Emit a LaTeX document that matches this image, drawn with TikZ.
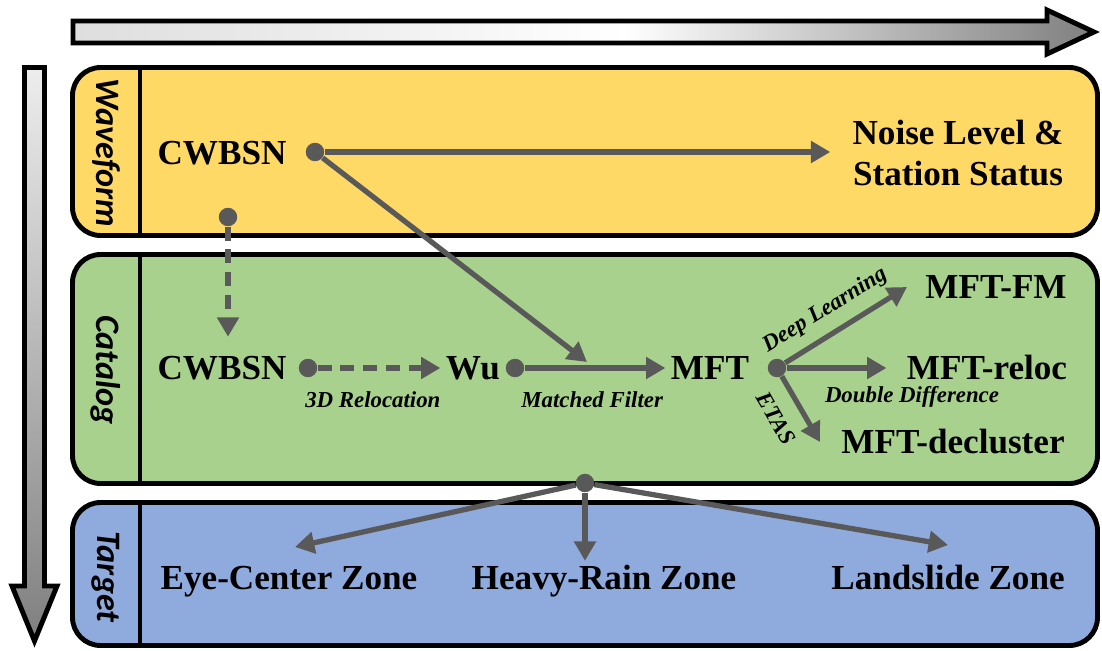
\documentclass[tikz,border=0pt]{standalone}
\usepackage{fontspec}
\setmainfont{Liberation Serif}
\newfontfamily\lanefont{Carlito}
\usetikzlibrary{arrows.meta, calc}

\definecolor{ink}{HTML}{000000}
\definecolor{flowgray}{HTML}{595959}
\definecolor{wavefill}{HTML}{FFD966}
\definecolor{catfill}{HTML}{A9D18E}
\definecolor{tgtfill}{HTML}{8FAADC}

\pgfdeclarehorizontalshading{timeshade}{100bp}{rgb(0bp)=(.87,.87,.87); rgb(25bp)=(.87,.87,.87);
  rgb(52bp)=(1,1,1); rgb(75bp)=(.5,.5,.5); rgb(100bp)=(.5,.5,.5)}
\pgfdeclareverticalshading{depthshade}{100bp}{rgb(0bp)=(.5,.5,.5); rgb(25bp)=(.5,.5,.5);
  rgb(75bp)=(.93,.93,.93); rgb(100bp)=(.93,.93,.93)}

\tikzset{
  >={Triangle[length=11pt, width=12pt]},
  %
  band/.style={draw=ink, line width=2.8pt, rounded corners=16pt},
  divider/.style={draw=ink, line width=2.8pt},
  lanelbl/.style={font=\lanefont\fontsize{19.5}{20}\selectfont\bfseries\itshape,
                  rotate=-90, inner sep=0pt, text=ink},
  %
  item/.style={font=\bfseries\fontsize{20}{22.8}\selectfont, text=ink,
               inner sep=3pt, align=center},
  cell/.style={item, text height=13.2pt, text depth=0pt},
  tag/.style={font=\bfseries\itshape\fontsize{13}{14}\selectfont, text=ink, inner sep=2pt},
  dot/.style={circle, fill=flowgray, inner sep=0pt, minimum size=10.5pt},
  %
  flow/.style={draw=flowgray, line width=3pt, ->},
  flowdash/.style={flow, dash pattern=on 8pt off 5pt},
  %
  timearrow/.style={draw=ink, line width=2.8pt, line join=miter, shading=timeshade},
  deptharrow/.style={draw=ink, line width=2.8pt, line join=miter, shading=depthshade},
}

\begin{document}
\begin{tikzpicture}[x=0.02cm, y=-0.02cm]

  \fill[white] (0,0) rectangle (1102,650);
  \useasboundingbox (0,0) rectangle (1102,650);

  % --- the two axes ------------------------------------------------------
  \shadedraw[timearrow] (73,21) -- (1047,21) -- (1047,10) -- (1094,32)
    -- (1047,54) -- (1047,43) -- (73,43) -- cycle;
  \shadedraw[deptharrow] (24.5,67.5) -- (44.5,67.5) -- (44.5,586) -- (57,586)
    -- (34.5,641) -- (12,586) -- (24.5,586) -- cycle;

  % --- the three lanes ---------------------------------------------------
  \draw[band, fill=wavefill] (72.5,67.5) rectangle (1097.5,235.5);
  \draw[divider] (140,67.5) -- (140,235.5);
  \node[lanelbl] (lwave) at (106,153) {Waveform};

  \draw[band, fill=catfill] (72.5,254.5) rectangle (1097.5,483.5);
  \draw[divider] (140,254.5) -- (140,483.5);
  \node[lanelbl] (lcat) at (106,370) {Catalog};

  \draw[band, fill=tgtfill] (72.5,502.5) rectangle (1097.5,645.5);
  \draw[divider] (140,502.5) -- (140,645.5);
  \node[lanelbl] (ltgt) at (106,577) {Target};

  % --- waveform ----------------------------------------------------------
  \node[cell] (cwwav) at (222,153) {CWBSN};
  \node[item] (noise) at (958,153) {Noise Level \&\\Station Status};
  \node[dot] (dwa) at (315,152) {};
  \node[dot] (dwb) at (228,217) {};

  % --- catalog -----------------------------------------------------------
  \node[cell] (cwcat) at (222,368) {CWBSN};
  \node[dot]  (dca)   at (308,368) {};
  \node[cell] (wu)    at (473,368) {Wu};
  \node[dot]  (dcb)   at (515,368) {};
  \node[cell] (mft)   at (710,368) {MFT};
  \node[dot]  (dcc)   at (777,368) {};
  \node[cell] (fm)    at (996,287) {MFT-FM};
  \node[cell] (reloc) at (987,368) {MFT-reloc};
  \node[cell] (decl)  at (953,442) {MFT-decluster};
  \coordinate (mfin)     at (587,362);
  \coordinate (fmtip)    at (907,287);
  \coordinate (decltip)  at (820,442);

  % --- target ------------------------------------------------------------
  \node[dot]  (dta)   at (585,483) {};
  \node[cell] (eye)   at (289,578) {Eye-Center Zone};
  \node[cell] (rain)  at (604,578) {Heavy-Rain Zone};
  \node[cell] (slide) at (948,578) {Landslide Zone};
  \coordinate (eyetip)   at (295,547);
  \coordinate (slidetip) at (948,545);

  % --- links -------------------------------------------------------------
  \draw[flow, shorten >=9.5pt] (dwa) -- (dwa -| noise.west);
  \draw[flow] (dwa) -- (mfin);
  \draw[flowdash, shorten >=8pt] (dwb) -- (dwb |- cwcat.north);

  \draw[flowdash] (dca) -- node[tag, below=10pt, pos=.45] {3D Relocation} (wu);
  \draw[flow] (dcb) -- node[tag, below=10pt, pos=.48] {Matched Filter} (mft);

  \draw[flow] (dcc) -- node[tag, sloped, above=4pt, pos=.43] {Deep Learning} (fmtip);
  \draw[flow, shorten >=8.5pt] (dcc) -- (reloc);
  \node[tag] (ddlbl) at (912,397) {Double Difference};
  \draw[flow] (dcc) -- node[tag, sloped, below=7pt, pos=.44] {ETAS} (decltip);

  \draw[flow] (dta) -- (eyetip);
  \draw[flow] (dta) -- (dta |- rain.north);
  \draw[flow] (dta) -- (slidetip);

\end{tikzpicture}
\end{document}
